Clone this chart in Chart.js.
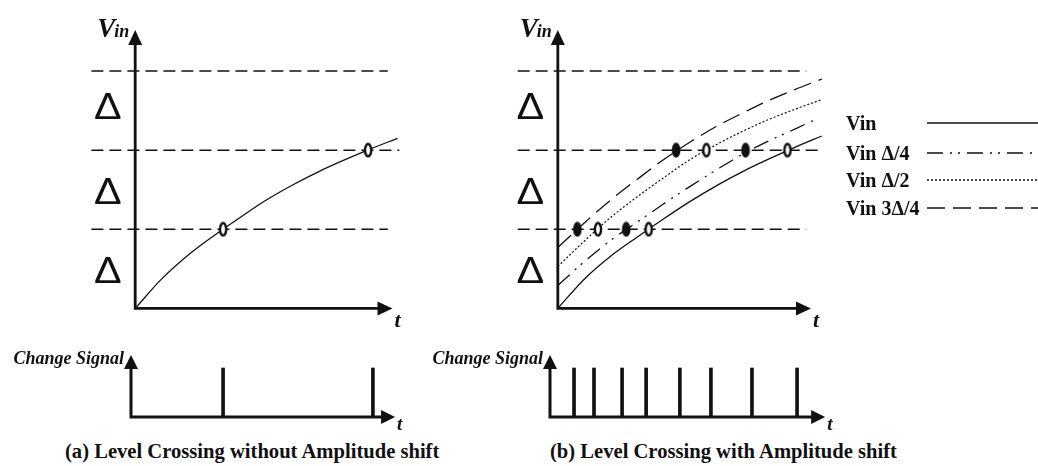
<!DOCTYPE html>
<html>
<head>
<meta charset="utf-8">
<script src="https://cdn.jsdelivr.net/npm/chart.js@4.4.0/dist/chart.umd.min.js"></script>
<style>
  html, body { margin: 0; padding: 0; background: #fff; }
  body { width: 1038px; height: 466px; position: relative; overflow: hidden; }
  canvas { position: absolute; }
  .caption { position: absolute; top: 440px; line-height: 23px; font: bold 20.6px "Liberation Serif", serif; color: #111; white-space: nowrap; }
</style>
</head>
<body>
<canvas id="topA" width="420" height="340" style="left:0;top:0"></canvas>
<canvas id="topB" width="538" height="340" style="left:500px;top:0"></canvas>
<canvas id="sigA" width="420" height="100" style="left:0;top:340px"></canvas>
<canvas id="sigB" width="420" height="100" style="left:420px;top:340px"></canvas>
<div class="caption" style="left:65px">(a) Level Crossing without Amplitude shift</div>
<div class="caption" style="left:550px">(b) Level Crossing with Amplitude shift</div>
<script>
// time in grid units, voltage in units of Delta
const tSteps = [0, 1, 2, 3, 4, 5, 6, 7, 8, 9, 10];
const vinA = [0, 0.37, 0.67, 0.92, 1.15, 1.37, 1.56, 1.73, 1.88, 2.02, 2.15];
const crossA = [3.35, 8.88];

const vinB = [0, 0.37, 0.66, 0.90, 1.13, 1.35, 1.55, 1.73, 1.89, 2.04, 2.18];
const tQuarter = [0, 1, 2, 3, 4, 5, 6, 7, 8, 9, 9.7];
const vinQuarter = [0.29, 0.59, 0.86, 1.09, 1.32, 1.54, 1.75, 1.95, 2.12, 2.27, 2.38];
const vinHalf = [0.53, 0.85, 1.15, 1.41, 1.65, 1.88, 2.07, 2.24, 2.39, 2.52, 2.64];
const vinThreeQ = [0.77, 1.08, 1.37, 1.63, 1.88, 2.10, 2.30, 2.47, 2.63, 2.77, 2.90];
const crossVin = [3.44, 8.70];
const crossQuarter = [2.59, 7.11];
const crossHalf = [1.52, 5.63];
const crossThreeQ = [0.74, 4.48];

const levels = [1, 2, 3];
const levelStartA = -1.67;
const levelEndA = [9.63, 10.07, 9.63];
const levelStartB = -1.52;
const levelEndB = [9.41, 9.96, 9.41];
const deltaTicks = [0.45, 1.45, 2.53];

const changeA = [3.41, 8.96];
const changeB = [0.89, 1.63, 2.67, 3.56, 4.81, 5.96, 7.48, 9.15];
const legendLabels = ['Vin', 'Vin \u0394/4', 'Vin \u0394/2', 'Vin 3\u0394/4'];

const INK = '#111';

function pts(xs, ys) {
  return xs.map((x, i) => ({ x: x, y: ys[i] }));
}

function ellipse(filled) {
  const c = document.createElement('canvas');
  c.width = 10; c.height = 16;
  const g = c.getContext('2d');
  g.beginPath();
  g.ellipse(5, 8, 3.1, 6.2, 0, 0, Math.PI * 2);
  g.fillStyle = filled ? INK : '#fff';
  g.fill();
  g.lineWidth = 2.4;
  g.strokeStyle = INK;
  g.stroke();
  return c;
}
const openMark = ellipse(false);
const fullMark = ellipse(true);

function markers(times, lvls, style) {
  return {
    data: times.map((t, i) => ({ x: t, y: lvls[i] })),
    showLine: false,
    pointStyle: style,
    pointRadius: 5
  };
}

function levelLines(start, ends) {
  return levels.map((lv, i) => ({
    data: [{ x: start, y: lv }, { x: ends[i], y: lv }],
    borderColor: INK,
    borderWidth: 1.5,
    borderDash: [12, 6],
    pointRadius: 0
  }));
}

function curve(label, xs, ys, dash, width) {
  return {
    label: label,
    data: pts(xs, ys),
    borderColor: INK,
    borderWidth: width || 1.3,
    borderDash: dash,
    pointRadius: 0,
    cubicInterpolationMode: 'monotone'
  };
}

function arrow(ctx, x, y, dx, dy, head, half) {
  ctx.beginPath();
  ctx.moveTo(x, y);
  ctx.lineTo(x + dx * head - dy * half, y + dy * head - dx * half);
  ctx.lineTo(x + dx * head + dy * half, y + dy * head + dx * half);
  ctx.closePath();
  ctx.fill();
}

// axes with arrow heads, axis names and the Delta marks
const axesPlugin = {
  id: 'axes',
  afterDatasetsDraw(chart, args, o) {
    const ctx = chart.ctx;
    const xs = chart.scales.x, ys = chart.scales.y;
    const x0 = xs.getPixelForValue(0), y0 = ys.getPixelForValue(0);
    const xt = xs.getPixelForValue(o.xTip), yt = ys.getPixelForValue(o.yTip);
    ctx.save();
    ctx.fillStyle = INK;
    ctx.strokeStyle = INK;
    ctx.lineWidth = o.lineWidth;
    ctx.lineJoin = 'miter';
    ctx.setLineDash([]);
    ctx.beginPath();
    ctx.moveTo(x0, yt + o.head - 1);
    ctx.lineTo(x0, y0);
    ctx.lineTo(xt - o.head + 1, y0);
    ctx.stroke();
    arrow(ctx, x0, yt, 0, 1, o.head, o.half);
    arrow(ctx, xt, y0, -1, 0, o.head, o.half);

    ctx.textBaseline = 'alphabetic';
    if (o.vin) {
      ctx.textAlign = 'left';
      ctx.font = 'italic bold 27px "Liberation Serif"';
      ctx.fillText('V', x0 - 38, yt + 7);
      ctx.font = 'italic bold 18px "Liberation Serif"';
      ctx.fillText('in', x0 - 21, yt + 7);
    }
    if (o.side) {
      ctx.textAlign = 'right';
      ctx.font = 'italic bold 18px "Liberation Serif"';
      ctx.fillText(o.side, x0 - 7, yt + 9);
    }
    ctx.textAlign = 'left';
    ctx.font = o.tFont;
    ctx.fillText('t', xt + 2, y0 + o.tDy);

    if (o.deltas) {
      ctx.textAlign = 'center';
      ctx.textBaseline = 'middle';
      ctx.font = '37px "Liberation Sans"';
      const dx = xs.getPixelForValue(o.deltaX);
      o.deltas.forEach(d => {
        ctx.save();
        ctx.translate(dx, ys.getPixelForValue(d));
        ctx.scale(1.12, 1);
        ctx.fillText('\u0394', 0, 0);
        ctx.restore();
      });
    }
    ctx.restore();
  }
};

// legend: name on the left, line sample on the right
const keyPlugin = {
  id: 'key',
  afterDraw(chart, args, o) {
    if (!o.rows) return;
    const ctx = chart.ctx;
    ctx.save();
    ctx.font = 'bold 20px "Liberation Serif"';
    ctx.fillStyle = INK;
    ctx.strokeStyle = INK;
    ctx.textAlign = 'left';
    o.rows.forEach((y, i) => {
      const ds = chart.data.datasets.find(d => d.label === legendLabels[i]);
      ctx.fillText(ds.label, o.textX, y + 7);
      ctx.lineWidth = 1.5;
      ctx.setLineDash(ds.borderDash || []);
      ctx.beginPath();
      ctx.moveTo(o.lineFrom, y);
      ctx.lineTo(o.lineTo, y);
      ctx.stroke();
    });
    ctx.restore();
  }
};

Chart.register(axesPlugin, keyPlugin);

function baseOptions(xr, yr, axes, key) {
  return {
    responsive: false,
    animation: false,
    events: [],
    layout: { padding: 0 },
    scales: {
      x: { type: 'linear', min: xr[0], max: xr[1], display: false, offset: false },
      y: { type: 'linear', min: yr[0], max: yr[1], display: false }
    },
    plugins: { legend: { display: false }, tooltip: { enabled: false }, axes: axes, key: key || {} }
  };
}

new Chart(document.getElementById('topA'), {
  type: 'line',
  data: {
    datasets: [
      markers(crossA, levels, openMark),
      curve('Vin', tSteps, vinA, []),
      ...levelLines(levelStartA, levelEndA)
    ]
  },
  options: baseOptions([-133 / 27, 287 / 27], [-26.5 / 82, 313.5 / 82], {
    xTip: 9.81, yTip: 3.52, lineWidth: 2.8, head: 15, half: 7, vin: true,
    tFont: 'italic bold 22px "Liberation Serif"', tDy: 19,
    deltas: deltaTicks, deltaX: -1.04
  })
});

new Chart(document.getElementById('topB'), {
  type: 'line',
  data: {
    datasets: [
      markers([crossThreeQ[0], crossQuarter[0], crossThreeQ[1], crossQuarter[1]], [1, 1, 2, 2], fullMark),
      markers([crossHalf[0], crossVin[0], crossHalf[1], crossVin[1]], [1, 1, 2, 2], openMark),
      curve(legendLabels[0], tSteps, vinB, []),
      curve(legendLabels[1], tQuarter, vinQuarter, [16, 7, 2, 6, 2, 7]),
      curve(legendLabels[2], tSteps, vinHalf, [2, 2], 1.2),
      curve(legendLabels[3], tSteps, vinThreeQ, [18, 8]),
      ...levelLines(levelStartB, levelEndB)
    ]
  },
  options: baseOptions([-53 / 27, 485 / 27], [-26.5 / 82, 313.5 / 82], {
    xTip: 9.59, yTip: 3.52, lineWidth: 2.8, head: 15, half: 7, vin: true,
    tFont: 'italic bold 22px "Liberation Serif"', tDy: 19,
    deltas: deltaTicks, deltaX: -1.04
  }, { rows: [123, 153, 180, 208], textX: 346, lineFrom: 427, lineTo: 540 })
});

function signalChart(id, times, xr, xTip) {
  new Chart(document.getElementById(id), {
    type: 'bar',
    data: {
      datasets: [{
        data: times.map(t => ({ x: t, y: 1 })),
        backgroundColor: INK,
        barThickness: 3,
        borderWidth: 0
      }]
    },
    options: baseOptions(xr, [-23 / 49, 77 / 49], {
      xTip: xTip, yTip: 1.265, lineWidth: 3, head: 14, half: 7, side: 'Change Signal',
      tFont: 'italic bold 19px "Liberation Serif"', tDy: 13
    })
  });
}

signalChart('sigA', changeA, [-131 / 27, 289 / 27], 9.78);
signalChart('sigB', changeB, [-130 / 27, 290 / 27], 10.19);
</script>
</body>
</html>
